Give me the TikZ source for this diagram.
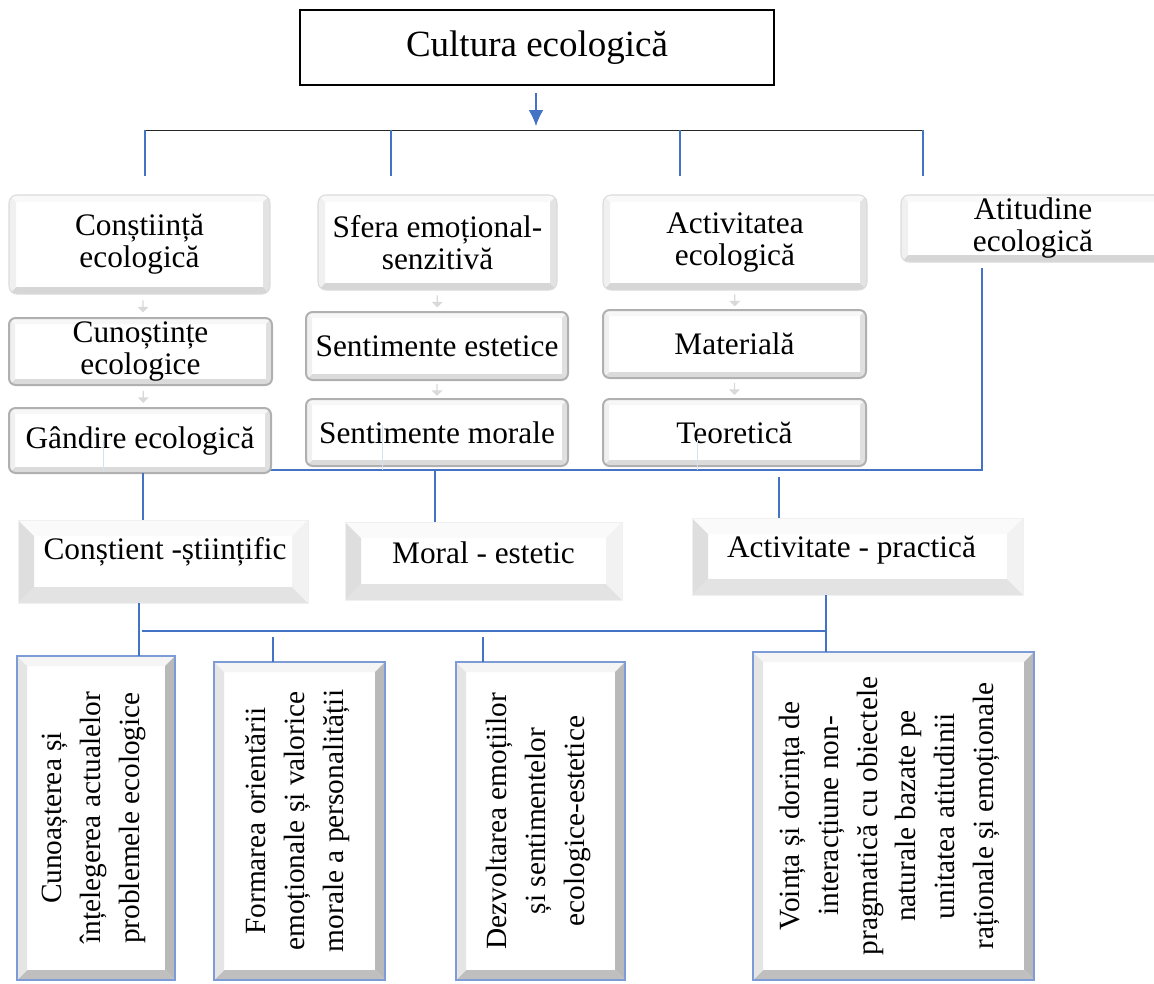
\documentclass[tikz,border=0pt]{standalone}
\usepackage{fontspec}
\setmainfont{Liberation Serif}
\usetikzlibrary{shapes.arrows,calc,arrows.meta}
\definecolor{lblue}{RGB}{68,114,196}
\definecolor{bblue}{RGB}{125,155,215}
\newcommand\fsMain{\fontsize{23.5}{24}\selectfont}
\newcommand\fsTop{\fontsize{27.75}{30}\selectfont}
\newcommand\fsBot{\fontsize{22}{29}\selectfont}
\newcommand\BevW{7}
\newcommand\BvT{white}
\newcommand\BvL{white}
\newcommand\BvR{white}
\newcommand\BvB{white}
\tikzset{
  bevel/.code args={#1/#2/#3/#4/#5}{\def\BevW{#1}\def\BvT{#2}\def\BvL{#3}\def\BvR{#4}\def\BvB{#5}},
  bevelpaint/.style={path picture={
    \coordinate (bA) at (path picture bounding box.north west);
    \coordinate (bB) at (path picture bounding box.north east);
    \coordinate (bC) at (path picture bounding box.south east);
    \coordinate (bD) at (path picture bounding box.south west);
    \coordinate (iA) at ([shift={(\BevW,\BevW)}]bA);
    \coordinate (iB) at ([shift={(-\BevW,\BevW)}]bB);
    \coordinate (iC) at ([shift={(-\BevW,-\BevW)}]bC);
    \coordinate (iD) at ([shift={(\BevW,-\BevW)}]bD);
    \fill[sharp corners,fill=\BvT] (bA)--(bB)--(iB)--(iA)--cycle;
    \fill[sharp corners,fill=\BvR] (bB)--(bC)--(iC)--(iB)--cycle;
    \fill[sharp corners,fill=\BvB] (bC)--(bD)--(iD)--(iC)--cycle;
    \fill[sharp corners,fill=\BvL] (bD)--(bA)--(iA)--(iD)--cycle;
  }},
  basebox/.style={fill=white, inner sep=0pt, outer sep=0pt, align=center, font=\fsMain},
  topbox/.style={basebox, draw=black, line width=1.5pt, font=\fsTop},
  boxA/.style={basebox, rounded corners=6pt, draw=gray!28, line width=0.8pt,
    bevel={7/gray!5/gray!12/gray!22/gray!32}, bevelpaint},
  boxB/.style={basebox, rounded corners=5pt, draw=gray!62, line width=1.5pt,
    bevel={6/gray!6/gray!12/gray!24/gray!28}, bevelpaint},
  boxC/.style={basebox, draw=gray!12, line width=0.5pt,
    bevel={16/gray!4/gray!26/gray!10/gray!22}, bevelpaint},
  boxD/.style={basebox, draw=bblue, line width=1.6pt,
    bevel={10/gray!8/gray!20/gray!55/gray!50}, bevelpaint},
  rtext/.style={font=\fsMain, align=center, inner sep=0pt},
  vtext/.style={font=\fsBot, align=center, inner sep=0pt, rotate=90},
  conn/.style={draw=lblue, line width=0.8pt},
  faint/.style={draw=lblue!22, line width=0.5pt},
  busblack/.style={draw=black!85, line width=0.7pt},
  tinyarr/.style={single arrow, shape border rotate=270, fill=gray!30, draw=none,
    minimum height=9pt, minimum width=8pt, single arrow head extend=1.5pt, inner sep=0pt},
}
\newcommand\Bx[7]{\node[#2, minimum width={(#5-#3)*0.75pt}, minimum height={(#6-#4)*0.75pt}] (#1) at ({(#3+#5)/2},{(#4+#6)/2}) {#7};}
\begin{document}
\begin{tikzpicture}[x=0.75pt,y=-0.75pt]
\useasboundingbox (0,0) rectangle (1154,983);
\clip (0,0) rectangle (1154,983);
\fill[white] (0,0) rectangle (1154,983);

% top
\Bx{top}{topbox}{300}{10}{774}{85}{Cultura ecologică}
\coordinate (arS) at (536,93);
\coordinate (arE) at (536,126);
\draw[conn, -{Latex[length=12pt,width=11pt]}] (arS) -- (arE);

% top bus
\coordinate (bus1L) at (145,130);
\coordinate (bus1R) at (923,130);
\draw[busblack] (bus1L) -- (bus1R);
\coordinate (d1a) at (145,130); \coordinate (d1b) at (145,176);
\coordinate (d2a) at (391,130); \coordinate (d2b) at (391,176);
\coordinate (d3a) at (680,130); \coordinate (d3b) at (680,176);
\coordinate (d4a) at (923,130); \coordinate (d4b) at (923,176);
\draw[conn] (d1a) -- (d1b);
\draw[conn] (d2a) -- (d2b);
\draw[conn] (d3a) -- (d3b);
\draw[conn] (d4a) -- (d4b);

% faint lines behind boxes
\coordinate (f1a) at (103,440); \coordinate (f1b) at (103,472);
\coordinate (f2a) at (382,425); \coordinate (f2b) at (382,470);
\coordinate (f3a) at (697,440); \coordinate (f3b) at (697,470);

% second bus
\coordinate (bus2L) at (270,470);
\coordinate (bus2R) at (982,470);
\coordinate (atB) at (982,268);
\draw[conn] (bus2L) -- (bus2R) -- (atB);

% row 1 columns
\Bx{cA1}{boxA}{9}{195}{270}{294}{Conștiință\\ecologică}
\Bx{cA2}{boxB}{9}{318}{272}{385}{Cunoștințe\\ecologice}
\Bx{cA3}{boxB}{9}{408}{271}{473}{Gândire ecologică}
\Bx{cB1}{boxA}{318}{195}{557}{290}{Sfera emoțional-\\senzitivă}
\Bx{cB2}{boxB}{306}{312}{568}{380}{Sentimente estetice}
\Bx{cB3}{boxB}{306}{399}{568}{466}{Sentimente morale}
\Bx{cC1}{boxA}{603}{195}{867}{290}{Activitatea\\ecologică}
\Bx{cC2}{boxB}{603}{310}{866}{378}{Materială}
\Bx{cC3}{boxB}{603}{399}{866}{466}{Teoretică}
\Bx{cD1}{boxA}{901}{195}{1165}{262}{Atitudine\\ecologică}

\draw[faint] (f1a) -- (f1b);
\draw[faint] (f2a) -- (f2b);
\draw[faint] (f3a) -- (f3b);

% tiny arrows
\node[tinyarr] (ta1) at ($(cA1.south)!0.5!(cA2.north)+(3,0)$) {};
\node[tinyarr] (ta2) at ($(cA2.south)!0.5!(cA3.north)+(3,0)$) {};
\node[tinyarr] (tb1) at ($(cB1.south)!0.5!(cB2.north)$) {};
\node[tinyarr] (tb2) at ($(cB2.south)!0.5!(cB3.north)$) {};
\node[tinyarr] (tc1) at ($(cC1.south)!0.5!(cC2.north)$) {};
\node[tinyarr] (tc2) at ($(cC2.south)!0.5!(cC3.north)$) {};

% row 3
\Bx{r1}{boxC}{18}{520}{308}{603}{}
\Bx{r2}{boxC}{345}{522}{622}{600}{}
\Bx{r3}{boxC}{692}{518}{1023}{595}{}
\node[rtext] (r1t) at ($(r1.center)+(2,-10)$) {Conștient -științific};
\node[rtext] (r2t) at ($(r2.center)+(0,-8)$) {Moral - estetic};
\node[rtext] (r3t) at ($(r3.center)+(-6,-6)$) {Activitate - practică};

\draw[conn] (cA3.south -| 143,0) -- (r1.north -| 143,0);
\coordinate (m2) at (435,470);
\draw[conn] (m2) -- (r2.north -| m2);
\coordinate (m3) at (779,477);
\draw[conn] (m3) -- (r3.north -| m3);

% row 4
\Bx{b1}{boxD}{17}{656}{175}{980}{}
\Bx{b2}{boxD}{214}{662}{385}{980}{}
\Bx{b3}{boxD}{456}{662}{625}{980}{}
\Bx{b4}{boxD}{753}{652}{1034}{980}{}
\node[vtext] (t1) at ($(b1.center)+(-2,0)$) {Cunoașterea și\\înțelegerea actualelor\\problemele ecologice};
\node[vtext] (t2) at ($(b2.center)+(-2,0)$) {Formarea orientării\\emoționale și valorice\\morale a personalității};
\node[vtext] (t3) at ($(b3.center)+(-2,0)$) {Dezvoltarea emoțiilor\\și sentimentelor\\ecologice-estetice};
\node[vtext] (t4) at ($(b4.center)+(-4,0)$) {Voința și dorința de\\interacțiune non-\\pragmatică cu obiectele\\naturale bazate pe\\unitatea atitudinii\\raționale și emoționale};

% third bus
\coordinate (bus3L) at (142,631);
\coordinate (bus3R) at (826,631);
\draw[conn] (bus3L) -- (bus3R);
\draw[conn] (r1.south -| 139,0) -- (b1.north -| 139,0);
\draw[conn] (r3.south -| bus3R) -- (b4.north -| bus3R);
\coordinate (m5) at (273,637);
\draw[conn] (m5) -- (b2.north -| m5);
\coordinate (m6) at (483,637);
\draw[conn] (m6) -- (b3.north -| m6);
\end{tikzpicture}
\end{document}
